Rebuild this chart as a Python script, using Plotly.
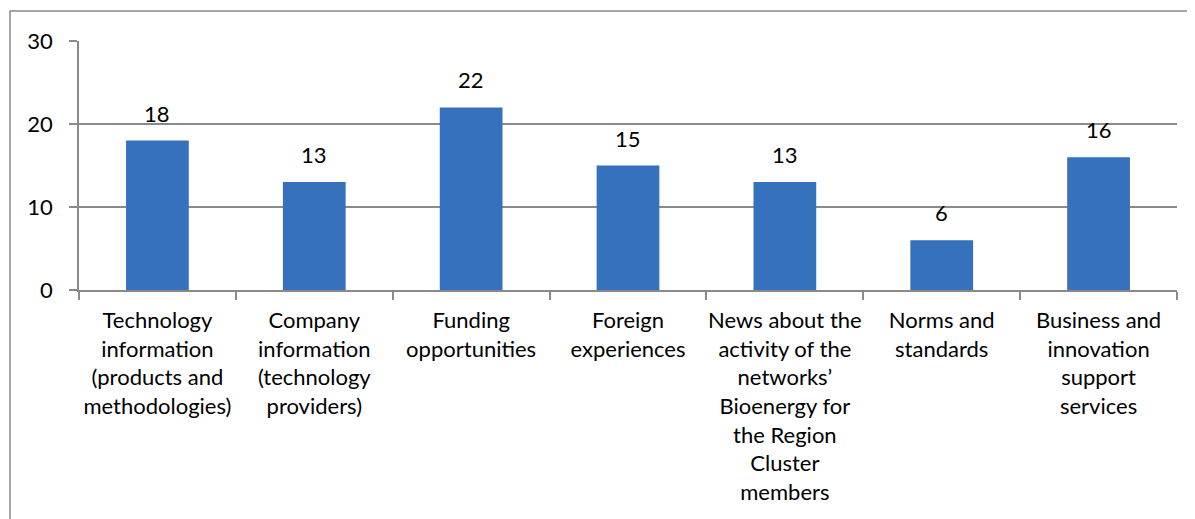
import plotly.graph_objects as go

categorias = [
    "Technology<br>information<br>(products and<br>methodologies)",
    "Company<br>information<br>(technology<br>providers)",
    "Funding<br>opportunities",
    "Foreign<br>experiences",
    "News about the<br>activity of the<br>networks’<br>Bioenergy for<br>the Region<br>Cluster<br>members",
    "Norms and<br>standards",
    "Business and<br>innovation<br>support<br>services",
]
valores = [18, 13, 22, 15, 13, 6, 16]
ticks_y = [0, 10, 20, 30]

FONTE = dict(family="Lato, Open Sans, sans-serif", size=22, color="#000000")
CINZA = "#8a8a8a"

fig = go.Figure(go.Bar(
    x=categorias, y=valores,
    marker=dict(color="#3571bc", line=dict(width=0)),
))

# rótulos de valor acima das barras
for cat, v in zip(categorias, valores):
    fig.add_annotation(x=cat, y=v, text=str(v), showarrow=False,
                       yanchor="bottom", yshift=12, font=FONTE)

# a página tem margem de 8px no body, por isso as margens são compensadas
fig.update_layout(
    width=1195, height=519,
    margin=dict(l=71, r=26, t=33, b=237, autoexpand=False),
    paper_bgcolor="white", plot_bgcolor="white",
    font=FONTE, showlegend=False, bargap=0.6,
    shapes=[dict(type="rect", xref="paper", yref="paper",
                 x0=-69 / 1098, x1=1.3, y0=-1.2, y1=1 + 30 / 249,
                 line=dict(color=CINZA, width=1.5), layer="below")],
)
fig.update_xaxes(
    showline=True, linecolor=CINZA, linewidth=1.5, automargin=False,
    ticks="outside", tickson="boundaries", ticklen=8, tickcolor=CINZA, tickwidth=1.5,
    tickfont=FONTE, tickangle=0, showgrid=False, ticklabelstandoff=10,
)
fig.update_yaxes(
    range=[0, 30], tickvals=ticks_y, showline=True, linecolor=CINZA, linewidth=1.5,
    ticks="outside", ticklen=8, tickcolor=CINZA, tickwidth=1.5, automargin=False,
    showgrid=True, gridcolor=CINZA, gridwidth=1.5, zeroline=False,
    tickfont=FONTE, ticklabelstandoff=12,
)

fig.write_html("out.html")
